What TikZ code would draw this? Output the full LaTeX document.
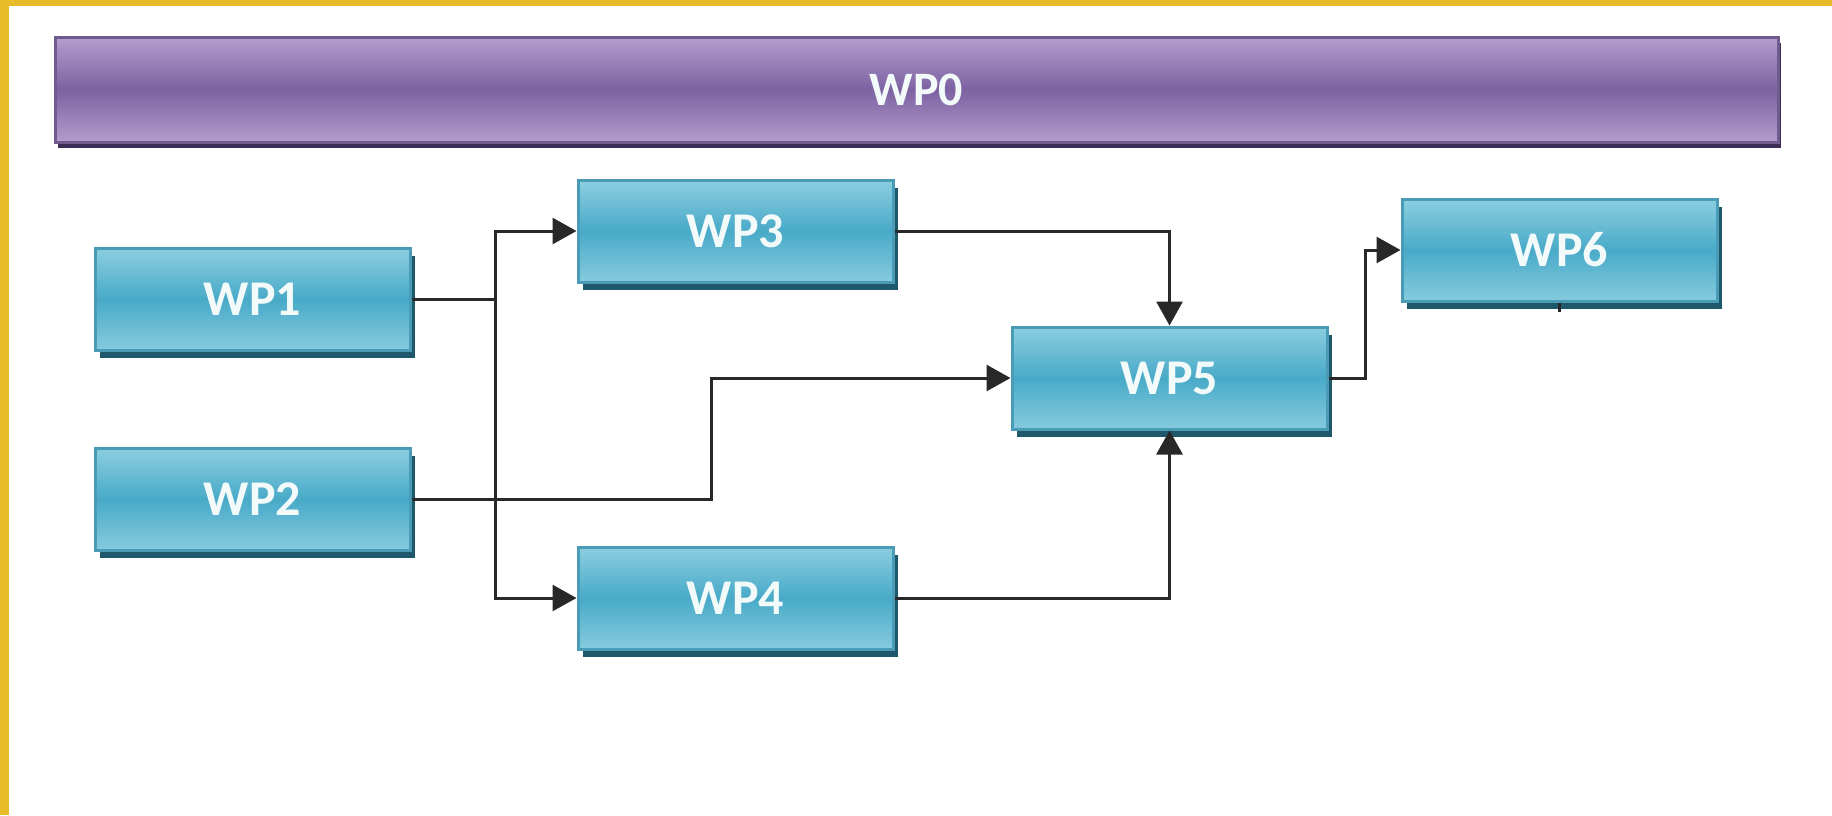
\documentclass[tikz,border=0pt]{standalone}
\usepackage{fontspec}
\setmainfont{Carlito}
\usetikzlibrary{arrows.meta,shadows,calc}
\definecolor{gold}{RGB}{232,188,40}
\definecolor{tealtop}{RGB}{140,206,224}
\definecolor{tealmid}{RGB}{72,170,200}
\definecolor{tealbot}{RGB}{134,203,222}
\definecolor{tealedge}{RGB}{74,155,182}
\definecolor{tealshadow}{RGB}{30,88,106}
\definecolor{purtop}{RGB}{180,159,205}
\definecolor{purmid}{RGB}{125,98,162}
\definecolor{purbot}{RGB}{180,156,204}
\definecolor{puredge}{RGB}{111,91,142}
\definecolor{purshadow}{RGB}{61,44,84}
\definecolor{linegray}{RGB}{40,40,40}
\definecolor{txt}{RGB}{242,250,250}
\begin{document}
\begin{tikzpicture}[x=0.5pt,y=-0.5pt,
  wp/.style={draw=tealedge, line width=1.5pt, top color=tealtop, bottom color=tealbot, middle color=tealmid,
    minimum width=157.5pt, minimum height=51pt, inner sep=0pt,
    font=\fontsize{25}{30}\selectfont\bfseries, text=txt,
    drop shadow={shadow xshift=2.5pt, shadow yshift=-4pt, fill=tealshadow, opacity=1}},
  wpzero/.style={draw=puredge, line width=1.5pt, top color=purtop, bottom color=purbot, middle color=purmid,
    minimum width=861.5pt, minimum height=52.5pt, inner sep=0pt,
    font=\fontsize{24}{28}\selectfont\bfseries, text=txt,
    drop shadow={shadow xshift=1.5pt, shadow yshift=-3pt, fill=purshadow, opacity=1}},
  conn/.style={draw=linegray, line width=1.5pt},
  arr/.style={conn, -{Triangle[length=12pt,width=13pt]}}
]
\useasboundingbox (0,0) rectangle (1832,815);
\fill[white] (0,0) rectangle (1832,815);
\fill[gold] (0,0) rectangle (9,815);
\fill[gold] (0,0) rectangle (1832,6);

\node[wpzero] (wp0) at (916.5,89.5) {WP0};
\node[wp] (wp1) at (252.5,299) {WP1};
\node[wp] (wp2) at (252.5,499) {WP2};
\node[wp] (wp3) at (735.5,231) {WP3};
\node[wp] (wp4) at (735.5,598) {WP4};
\node[wp] (wp5) at (1169.5,378) {WP5};
\node[wp] (wp6) at (1559.5,250) {WP6};

\coordinate (jx) at (495,0);
\coordinate (jy) at (711,0);
\coordinate (jz) at (1365,0);
\coordinate (tick) at (1559.5,312);

\draw[arr] (wp1.east) -- (wp1.east -| jx) |- (wp3.west);
\draw[arr] (wp1.east -| jx) |- (wp4.west);
\draw[arr] (wp2.east) -- (wp2.east -| jy) |- (wp5.west);
\draw[arr] (wp3.east) -| (wp5.north);
\draw[arr] (wp4.east) -| (wp5.south);
\draw[arr] (wp5.east) -- (wp5.east -| jz) |- (wp6.west);
\draw[conn] (wp6.south) -- (tick);
\end{tikzpicture}
\end{document}
